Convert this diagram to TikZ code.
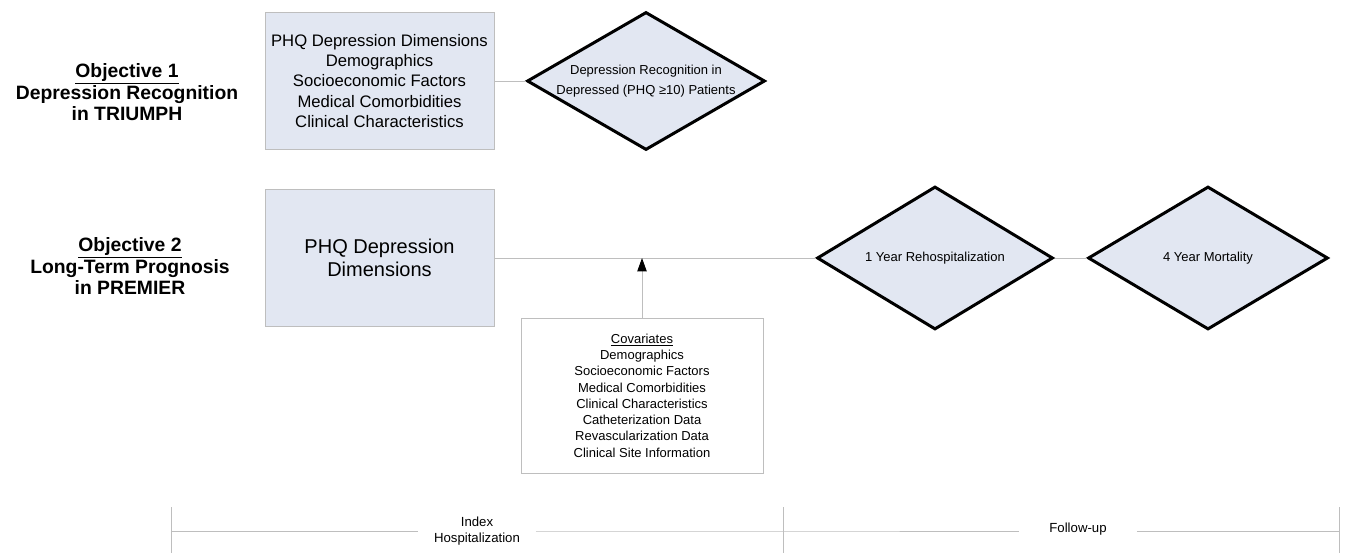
\documentclass[tikz,border=0pt]{standalone}
\usepackage{fontspec}
\setmainfont{Liberation Sans}
\usetikzlibrary{shapes.geometric,arrows.meta}
\definecolor{boxfill}{RGB}{226,231,242}
\definecolor{lgray}{RGB}{190,190,190}
\tikzset{
  objlabel/.style={align=center,font=\fontsize{14.5}{15.5}\selectfont\bfseries},
  infobox/.style={draw=lgray,line width=0.75pt,fill=boxfill,align=center,inner sep=0pt},
  covbox/.style={draw=lgray,line width=0.75pt,fill=white,align=center,inner sep=0pt,
    font=\fontsize{9.75}{12.2}\selectfont},
  outcome/.style={diamond,draw=black,line width=2.25pt,fill=boxfill,inner sep=0pt},
  conn/.style={draw=lgray,line width=0.75pt},
  phase/.style={align=center,minimum width=87.75pt,inner sep=0pt,
    font=\fontsize{9.9}{12}\selectfont},
}
\begin{document}
\begin{tikzpicture}[x=0.75pt,y=-0.75pt]
\useasboundingbox (0,0) rectangle (1346,553);
% objectives
\node[objlabel] (obj1) at (127,92) {\underline{Objective 1}\\Depression Recognition\\in TRIUMPH};
\node[objlabel] (obj2) at (130,266) {\underline{Objective 2}\\Long-Term Prognosis\\in PREMIER};
% boxes
\node[infobox,minimum width=171.75pt,minimum height=102.75pt,
  font=\fontsize{12.5}{15.2}\selectfont] (box1) at (379.5,81)
  {PHQ Depression Dimensions\\Demographics\\Socioeconomic Factors\\Medical Comorbidities\\Clinical Characteristics};
\node[infobox,minimum width=171.75pt,minimum height=102.75pt,
  font=\fontsize{15}{16.9}\selectfont] (box2) at (379.5,258)
  {PHQ Depression\\Dimensions};
\node[covbox,minimum width=181.5pt,minimum height=116.25pt] (cov) at (642,395.5)
  {\underline{Covariates}\\Demographics\\Socioeconomic Factors\\Medical Comorbidities\\Clinical Characteristics\\Catheterization Data\\Revascularization Data\\Clinical Site Information};
% diamonds
\node[outcome,minimum width=178.5pt,minimum height=103.5pt,
  label={[align=center,font=\fontsize{9.75}{14.5}\selectfont]center:Depression Recognition in\\Depressed (PHQ ≥10) Patients}] (d1) at (646,81) {};
\node[outcome,minimum width=177pt,minimum height=107.25pt,
  label={[font=\fontsize{9.75}{12}\selectfont]center:1 Year Rehospitalization}] (d2) at (935,258) {};
\node[outcome,minimum width=180pt,minimum height=107.25pt,
  label={[font=\fontsize{9.75}{12}\selectfont]center:4 Year Mortality}] (d3) at (1208,258) {};
% connectors
\draw[conn] (box1.east) -- (d1.west);
\draw[conn] (box2.east) -- (d2.west);
\draw[conn] (d2.east) -- (d3.west);
\coordinate (j) at (642,258);
\draw[conn,-{Triangle[length=10pt,width=7pt,color=black]}] (cov.north) -- (j);
% timeline
\node[phase] (idx) at (477,531) {Index\\Hospitalization};
\node[phase] (fu) at (1078,529) {Follow-up};
\coordinate (ta) at (171,507); \coordinate (tab) at (171,553);
\coordinate (tb) at (783,507); \coordinate (tbb) at (783,553);
\coordinate (tc) at (1339,507); \coordinate (tcb) at (1339,553);
\coordinate (la) at (171,531); \coordinate (lb) at (783,531); \coordinate (lc) at (1339,531);
\draw[conn] (ta) -- (tab);
\draw[conn] (tb) -- (tbb);
\draw[conn] (tc) -- (tcb);
\draw[conn] (la) -- (idx.west);
\draw[conn] (idx.east) -- (lb) -- (fu.west |- lb);
\draw[conn] (fu.east |- lc) -- (lc);
\end{tikzpicture}
\end{document}
